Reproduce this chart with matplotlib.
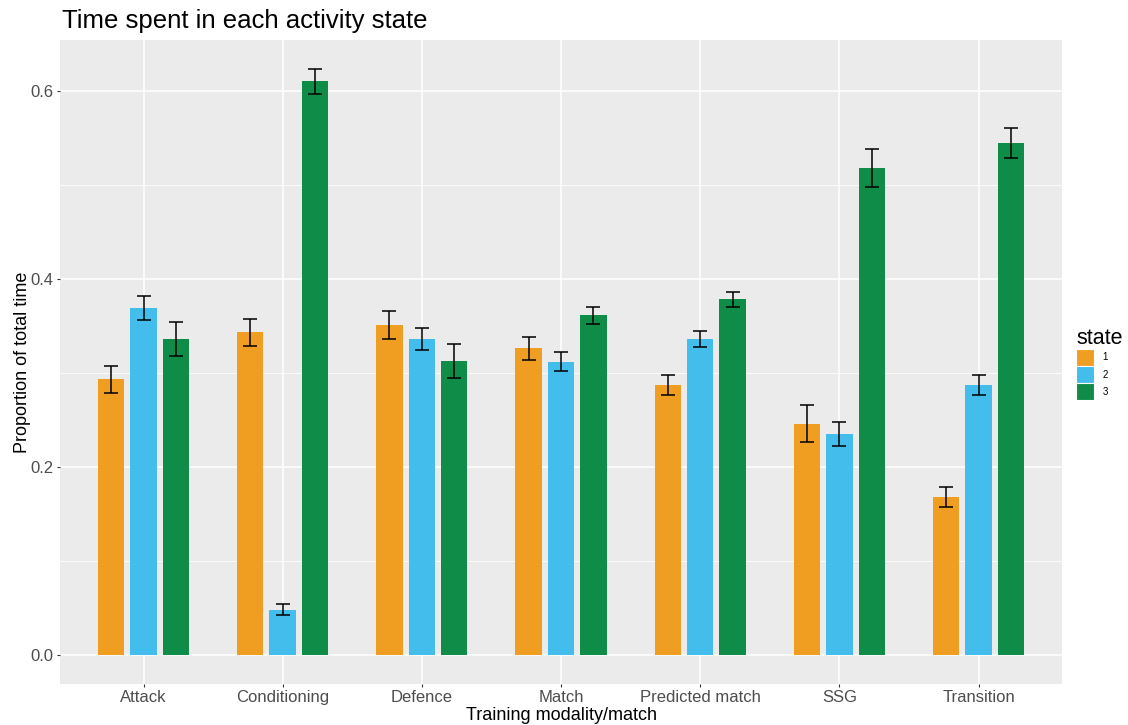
import matplotlib.pyplot as plt
from matplotlib.patches import Patch
import numpy as np

plt.rcParams['font.family'] = ['Liberation Sans', 'DejaVu Sans']

modalities = ['Attack', 'Conditioning', 'Defence', 'Match', 'Predicted match', 'SSG', 'Transition']
states = ['1', '2', '3']
colors = ['#F09E22', '#42BDEC', '#0E8C48']

# mean proportion per state
state1 = [0.293, 0.343, 0.351, 0.326, 0.287, 0.246, 0.168]
state2 = [0.369, 0.048, 0.336, 0.312, 0.336, 0.235, 0.287]
state3 = [0.336, 0.610, 0.313, 0.361, 0.378, 0.518, 0.544]
# error bar half widths
err1 = [0.014, 0.014, 0.015, 0.012, 0.011, 0.020, 0.011]
err2 = [0.013, 0.006, 0.012, 0.010, 0.009, 0.013, 0.011]
err3 = [0.018, 0.013, 0.018, 0.009, 0.008, 0.020, 0.016]

means = [state1, state2, state3]
errs = [err1, err2, err3]

fig = plt.figure(figsize=(11.28, 7.25), dpi=100)
ax = fig.add_axes([0.0532, 0.0566, 0.8883, 0.8882])
ax.set_facecolor('#EBEBEB')

x = np.arange(len(modalities))
offset = 0.233
bw = 0.19
for i in range(3):
    xs = x + (i - 1) * offset
    ax.bar(xs, means[i], width=bw, color=colors[i], zorder=2)
    ax.errorbar(xs, means[i], yerr=errs[i], fmt='none', ecolor='black',
                elinewidth=1.1, capsize=5, capthick=1.1, zorder=3)

ax.set_xlim(-0.6, len(modalities) - 0.4)
ax.set_ylim(-0.031, 0.654)
ax.set_yticks([0.0, 0.2, 0.4, 0.6])
ax.set_yticklabels(['0.0', '0.2', '0.4', '0.6'])
ax.set_yticks([0.1, 0.3, 0.5], minor=True)
ax.set_xticks(x)
ax.set_xticklabels(modalities)

ax.grid(True, which='major', color='white', linewidth=1.1, zorder=0)
ax.grid(True, which='minor', axis='y', color='white', linewidth=0.55, zorder=0)
ax.set_axisbelow(True)
for s in ax.spines.values():
    s.set_visible(False)
ax.tick_params(axis='both', which='major', length=2.5, pad=2, color='#333333',
               labelsize=12, labelcolor='#4D4D4D', width=0.8)
ax.tick_params(axis='y', which='minor', length=0)

ax.set_xlabel('Training modality/match', fontsize=13)
ax.set_ylabel('Proportion of total time', fontsize=13)
ax.xaxis.set_label_coords(0.5, -0.036)
ax.yaxis.set_label_coords(-0.029, 0.5)
fig.text(0.055, 0.955, 'Time spent in each activity state', fontsize=18.5, ha='left', va='bottom')

handles = [Patch(facecolor=c, edgecolor='white', linewidth=0.8) for c in colors]
leg = fig.legend(handles, states, title='state', loc='upper left',
                 bbox_to_anchor=(0.9505, 0.553), frameon=False, fontsize=7,
                 title_fontsize=15.5, handlelength=1.8, handleheight=2.32,
                 handletextpad=0.9, labelspacing=0.0, borderaxespad=0)
leg._legend_box.align = 'left'

fig.savefig('out.png', dpi=100)
